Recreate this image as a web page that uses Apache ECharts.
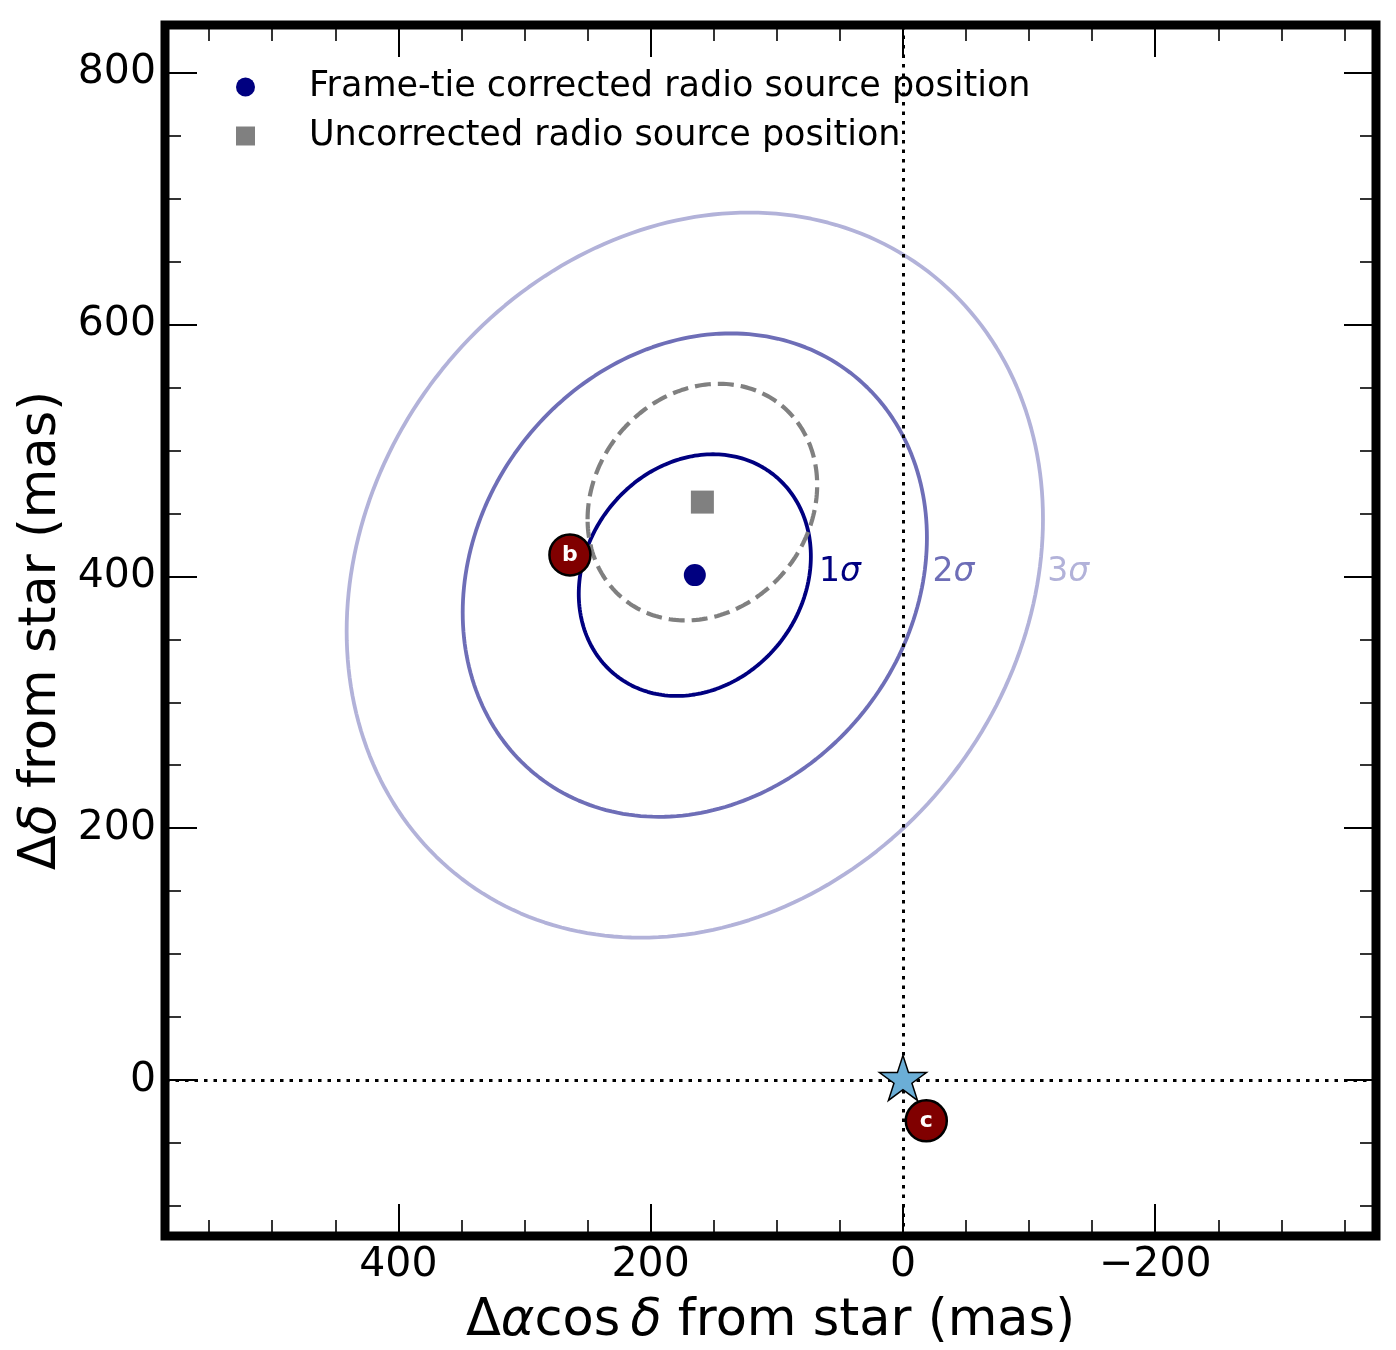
<!DOCTYPE html>
<html>
<head>
<meta charset="utf-8">
<script src="https://cdn.jsdelivr.net/npm/echarts@6/dist/echarts.min.js"></script>
<style>
html, body { margin: 0; padding: 0; background: #fff; }
#chart { width: 1396px; height: 1350px; }
</style>
</head>
<body>
<div id="chart"></div>
<script>
// axis ranges in mas (x runs right to left)
const xRange = [-375, 585];
const yRange = [-124, 838];

// radio source positions
const correctedPos = [[165, 401]];
const uncorrectedPos = [[159, 459]];

// error ellipses: sigma x, sigma y, correlation
const correctedErr = [92, 96, -0.155];
const uncorrectedErr = [91, 94, -0.145];
const sigmaLevels = [1, 2, 3];
const sigmaLabels = ['1', '2', '3'];
const sigmaLabelPos = [[67, 403], [-23, 403], [-114, 403]];

// planets and star
const planetNames = ['b', 'c'];
const planetPos = [[264, 417], [-18.5, -32.5]];
const starPos = [[0, 0]];

const corrName = 'Frame-tie corrected radio source position';
const rawName = 'Uncorrected radio source position';

const font = 'DejaVu Sans';
const sigmaColors = ['#000080', '#6e6eb7', '#b2b2d9'];
const starPath = 'path://M50 0 L38.77 34.55 L2.45 34.55 L31.83 55.9 L20.61 90.45 L50 69.1 L79.39 90.45 L68.17 55.9 L97.55 34.55 L61.23 34.55 Z';

// outline of a k-sigma error ellipse
function ellipse(c, err, k) {
    let pts = [];
    let n = 240;
    let s = Math.sqrt(1 - err[2] * err[2]);
    for (let i = 0; i <= n; i++) {
        let t = 2 * Math.PI * i / n;
        pts.push([
            c[0] + k * err[0] * Math.cos(t),
            c[1] + k * err[1] * (err[2] * Math.cos(t) + s * Math.sin(t))
        ]);
    }
    return pts;
}

function minus(v) {
    return v < 0 ? '\u2212' + Math.abs(v) : String(v);
}

function tickAxis(kind, grid, pos, step, len, width, withLabels) {
    let r = kind === 'x' ? xRange : yRange;
    return {
        type: 'value',
        gridIndex: grid,
        position: pos,
        min: r[0],
        max: r[1],
        inverse: kind === 'x',
        minInterval: step,
        maxInterval: step,
        axisLine: {show: false, onZero: false},
        axisTick: {show: true, inside: true, length: len, lineStyle: {color: '#000', width: width}},
        axisLabel: withLabels ? {
            show: true,
            showMinLabel: false,
            showMaxLabel: false,
            margin: 9,
            color: '#000',
            fontFamily: font,
            fontSize: 41,
            formatter: minus
        } : {show: false},
        splitLine: {show: false}
    };
}

const nameStyle = {
    color: '#000',
    fontFamily: font,
    fontSize: 51,
    rich: {
        n: {fontFamily: font, fontSize: 51, color: '#000'},
        i: {fontFamily: font, fontSize: 51, color: '#000', fontStyle: 'italic'}
    }
};

let xMajor = tickAxis('x', 0, 'bottom', 200, 32, 2, true);
xMajor.name = '{n|\u0394}{i|\u03b1}{n|cos\u2009}{i|\u03b4}{n| from star (mas)}';
xMajor.nameLocation = 'middle';
xMajor.nameGap = 60;
xMajor.nameTextStyle = nameStyle;

let yMajor = tickAxis('y', 0, 'left', 200, 32, 2, true);
yMajor.name = '{n|\u0394}{i|\u03b4}{n| from star (mas)}';
yMajor.nameLocation = 'middle';
yMajor.nameGap = 98;
yMajor.nameTextStyle = nameStyle;

let chart = echarts.init(document.getElementById('chart'));
let option = {
    animation: false,
    backgroundColor: '#fff',
    grid: [
        {left: 165, right: 20, top: 25, bottom: 114, containLabel: false, outerBoundsMode: 'none',
            show: true, borderColor: '#000', borderWidth: 9, backgroundColor: 'transparent'},
        {left: 165, right: 20, top: 25, bottom: 114, containLabel: false, outerBoundsMode: 'none'}
    ],
    xAxis: [
        xMajor,
        tickAxis('x', 0, 'top', 200, 32, 2, false),
        tickAxis('x', 1, 'bottom', 50, 16, 1.6, false),
        tickAxis('x', 1, 'top', 50, 16, 1.6, false)
    ],
    yAxis: [
        yMajor,
        tickAxis('y', 0, 'right', 200, 32, 2, false),
        tickAxis('y', 1, 'left', 50, 16, 1.6, false),
        tickAxis('y', 1, 'right', 50, 16, 1.6, false)
    ],
    legend: {
        show: true,
        orient: 'vertical',
        left: 231,
        top: 61,
        itemWidth: 19,
        itemHeight: 19,
        itemGap: 7,
        selectedMode: false,
        textStyle: {fontFamily: font, fontSize: 35, color: '#000', lineHeight: 42, padding: [0, 0, 0, 49]},
        data: [
            {name: corrName, icon: 'circle'},
            {name: rawName, icon: 'rect'}
        ]
    },
    series: [
        ...sigmaLevels.map((k, i) => ({
            type: 'line',
            name: k + 'sigma',
            xAxisIndex: 0,
            yAxisIndex: 0,
            data: ellipse(correctedPos[0], correctedErr, k),
            symbol: 'none',
            silent: true,
            lineStyle: {color: sigmaColors[i], width: 3.8},
            z: 2
        })),
        {
            type: 'line',
            name: 'uncorrected ellipse',
            data: ellipse(uncorrectedPos[0], uncorrectedErr, 1),
            symbol: 'none',
            silent: true,
            lineStyle: {color: '#808080', width: 4.2, type: [16, 7]},
            z: 3,
            markLine: {
                silent: true,
                symbol: ['none', 'none'],
                label: {show: false},
                lineStyle: {color: '#000', width: 3, type: [3.5, 6]},
                data: [{xAxis: 0}, {yAxis: 0}]
            }
        },
        {
            type: 'scatter',
            name: 'sigma labels',
            data: sigmaLabelPos.map((p, i) => ({value: p, name: sigmaLabels[i], label: {color: sigmaColors[i]}})),
            symbolSize: 1,
            itemStyle: {color: 'rgba(0,0,0,0)', opacity: 1},
            silent: true,
            label: {
                show: true,
                position: 'right',
                distance: 0,
                formatter: p => '{n|' + p.name + '}{i|\u03c3}',
                rich: {
                    n: {fontFamily: font, fontSize: 33},
                    i: {fontFamily: font, fontSize: 33, fontStyle: 'italic'}
                }
            }
        },
        {
            type: 'scatter',
            name: corrName,
            data: correctedPos,
            symbol: 'circle',
            symbolSize: 22,
            itemStyle: {color: '#000080', opacity: 1},
            z: 5
        },
        {
            type: 'scatter',
            name: rawName,
            data: uncorrectedPos,
            symbol: 'rect',
            symbolSize: 23,
            itemStyle: {color: '#808080', opacity: 1},
            z: 5
        },
        {
            type: 'scatter',
            name: 'planets',
            data: planetPos.map((p, i) => ({value: p, name: planetNames[i]})),
            symbol: 'circle',
            symbolSize: 41,
            itemStyle: {color: '#800000', borderColor: '#000', borderWidth: 2.5, opacity: 1},
            label: {
                show: true,
                position: 'inside',
                formatter: '{b}',
                color: '#fff',
                fontWeight: 'bold',
                fontSize: 22,
                fontFamily: font
            },
            z: 6
        },
        {
            type: 'scatter',
            name: 'star',
            data: starPos,
            symbol: starPath,
            symbolSize: [47, 45],
            symbolOffset: [0, -2],
            itemStyle: {color: '#6baed6', borderColor: '#000', borderWidth: 1.5, opacity: 1},
            z: 7
        }
    ]
};
chart.setOption(option);
</script>
</body>
</html>
